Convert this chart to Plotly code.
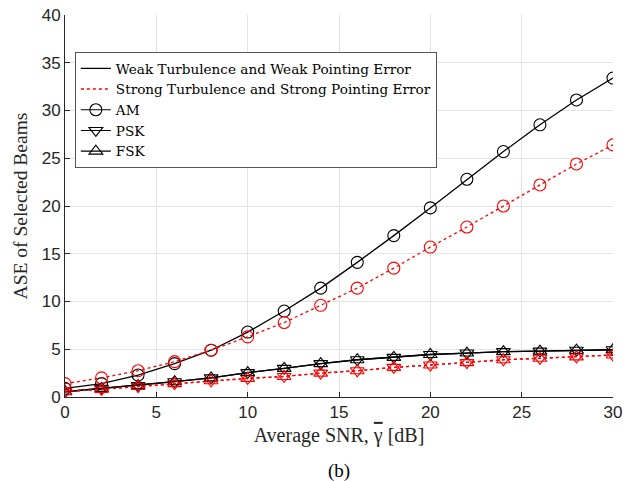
import plotly.graph_objects as go

snr = [0, 2, 4, 6, 8, 10, 12, 14, 16, 18, 20, 22, 24, 26, 28, 30]

am_weak = [0.9, 1.4, 2.3, 3.5, 4.9, 6.8, 9.0, 11.4, 14.1, 16.9, 19.8, 22.8, 25.7, 28.5, 31.1, 33.4]
am_strong = [1.4, 2.0, 2.75, 3.7, 4.9, 6.3, 7.8, 9.6, 11.4, 13.5, 15.7, 17.8, 20.0, 22.2, 24.4, 26.4]
psk_weak = [0.55, 0.9, 1.2, 1.6, 2.0, 2.55, 3.0, 3.5, 3.9, 4.15, 4.45, 4.6, 4.75, 4.8, 4.9, 4.95]
psk_strong = [0.6, 0.8, 1.1, 1.4, 1.7, 1.95, 2.15, 2.5, 2.75, 3.1, 3.35, 3.6, 3.9, 4.05, 4.2, 4.4]
fsk_weak = [0.55, 0.9, 1.2, 1.6, 2.0, 2.55, 3.0, 3.5, 3.9, 4.15, 4.45, 4.6, 4.75, 4.8, 4.9, 4.95]
fsk_strong = [0.6, 0.8, 1.1, 1.4, 1.7, 1.95, 2.15, 2.5, 2.75, 3.1, 3.35, 3.6, 3.9, 4.05, 4.2, 4.4]

x_ticks = [0, 5, 10, 15, 20, 25, 30]
y_ticks = [0, 5, 10, 15, 20, 25, 30, 35, 40]

serif = "Liberation Serif, DejaVu Serif, serif"
legend_serif = "DejaVu Serif, Liberation Serif, serif"
sans = "Liberation Sans, Arial, sans-serif"

fig = go.Figure()

series = [
    (am_weak, "black", "solid", "circle-open"),
    (am_strong, "red", "dot", "circle-open"),
    (psk_weak, "black", "solid", "triangle-down-open"),
    (psk_strong, "red", "dot", "triangle-down-open"),
    (fsk_weak, "black", "solid", "triangle-up-open"),
    (fsk_strong, "red", "dot", "triangle-up-open"),
]
for y, col, dash, sym in series:
    fig.add_trace(go.Scatter(
        x=snr, y=y, mode="lines+markers", showlegend=False,
        line=dict(color=col, width=1.3, dash=dash),
        marker=dict(symbol=sym, size=12, color=col, line=dict(width=1.1, color=col)),
    ))

# legend entries
fig.add_trace(go.Scatter(x=[None], y=[None], mode="lines", name="Weak Turbulence and Weak Pointing Error",
                         line=dict(color="black", width=1.3)))
fig.add_trace(go.Scatter(x=[None], y=[None], mode="lines", name="Strong Turbulence and Strong Pointing Error",
                         line=dict(color="red", width=1.5, dash="dot")))
for name, sym in [("AM", "circle-open"), ("PSK", "triangle-down-open"), ("FSK", "triangle-up-open")]:
    fig.add_trace(go.Scatter(x=[None], y=[None], mode="lines+markers", name=name,
                             line=dict(color="black", width=1.1),
                             marker=dict(symbol=sym, size=12, color="black", line=dict(width=1.1, color="black"))))

axis_common = dict(
    showgrid=True, gridcolor="#e3e3e3", gridwidth=1,
    showline=True, linecolor="#262626", linewidth=1, mirror=False,
    ticks="inside", ticklen=5, tickcolor="#262626",
    tickfont=dict(family=sans, size=17, color="#262626"),
    zeroline=False, automargin=False,
)

fig.update_layout(
    width=639, height=481,
    margin=dict(l=65, r=26, t=15, b=84),
    paper_bgcolor="white", plot_bgcolor="white",
    xaxis=dict(range=[0, 30], tickvals=x_ticks, **axis_common,
               title=dict(text='Average SNR, <span style="text-decoration:overline">γ</span> [dB]',
                          font=dict(family=serif, size=20, color="#262626"), standoff=6)),
    yaxis=dict(range=[0, 40], tickvals=y_ticks, **axis_common,
               title=dict(text="ASE of Selected Beams", font=dict(family=serif, size=19.5, color="#262626"), standoff=8)),
    legend=dict(x=0.018, y=0.903, xanchor="left", yanchor="top",
                bgcolor="white", bordercolor="#555555", borderwidth=1,
                font=dict(family=legend_serif, size=13.6, color="black"),
                tracegroupgap=0, itemwidth=30),
    annotations=[dict(text="(b)", xref="paper", yref="paper", x=0.5, y=-0.193,
                      xanchor="center", yanchor="middle", showarrow=False,
                      font=dict(family=serif, size=19, color="black"))],
)

fig.write_html("out.html")
